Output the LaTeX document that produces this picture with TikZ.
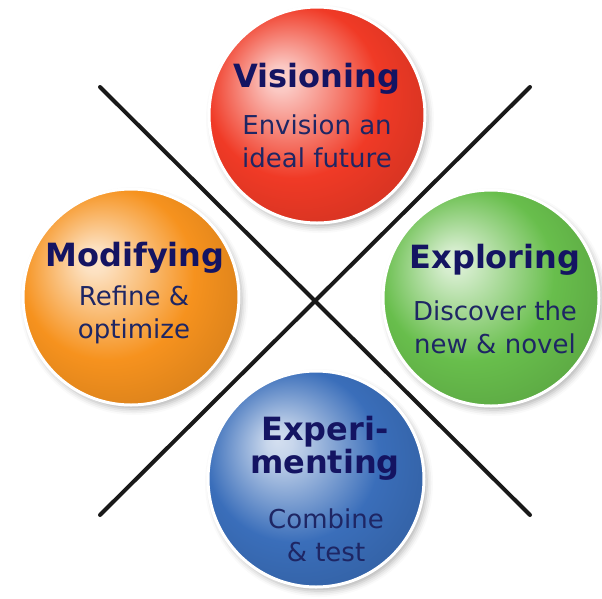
\documentclass[tikz,border=0pt]{standalone}
\usepackage{fontspec}
\setmainfont{DejaVu Sans}
\usetikzlibrary{shadows.blur}

\definecolor{headblue}{RGB}{20,20,98}
\definecolor{subblue}{RGB}{30,38,100}
\definecolor{visred}{RGB}{240,58,38}
\definecolor{modorange}{RGB}{246,146,30}
\definecolor{expgreen}{RGB}{104,190,76}
\definecolor{testblue}{RGB}{58,110,186}

% sphere shading: light spot up left, full colour, darker rim
\newcommand\declareball[2]{%
  \pgfdeclareradialshading{#1}{\pgfpoint{-9bp}{9bp}}{%
    color(0bp)=(#2!22!white); color(3bp)=(#2!28!white);
    color(20bp)=(#2); color(32bp)=(#2!88!black); color(50bp)=(#2!75!black)}}
\declareball{visball}{visred}
\declareball{modball}{modorange}
\declareball{expball}{expgreen}
\declareball{testball}{testblue}

\begin{document}
\begin{tikzpicture}[x=1pt,y=-1pt,
  ball/.style={circle, minimum size=216pt, inner sep=0pt, shade, shading=#1,
    draw=white, line width=3pt,
    blur shadow={shadow xshift=3pt, shadow yshift=-4pt, shadow blur radius=6pt, shadow opacity=30}},
  head/.style={anchor=base, align=center, text=headblue, font=\bfseries\fontsize{32}{33}\selectfont},
  sub/.style={anchor=base, align=center, text=subblue, font=\fontsize{26}{33}\selectfont}]
  \useasboundingbox (0,0) rectangle (602,598);

  % the cross
  \coordinate (nw) at (100,87);
  \coordinate (se) at (530,515);
  \coordinate (ne) at (530,87);
  \coordinate (sw) at (100,515);
  \draw[line width=4pt, line cap=round, black!90] (nw) -- (se) (ne) -- (sw);

  % the four spheres
  \node[ball=visball]  (vis)  at (317,115) {};
  \node[ball=modball]  (mod)  at (131,297) {};
  \node[ball=expball]  (expl) at (491,298) {};
  \node[ball=testball] (test) at (316,479) {};

  % titles and captions (base = last line)
  \node[head] (vis-h)  at (317,87)  {Visioning};
  \node[sub]  (vis-s)  at (317,167) {Envision an\\ideal future};
  \node[head] (mod-h)  at (135,266) {Modifying};
  \node[sub]  (mod-s)  at (134,338) {Refine \&\\optimize};
  \node[head] (expl-h) at (495,268) {Exploring};
  \node[sub]  (expl-s) at (495,353) {Discover the\\new \& novel};
  \node[head] (test-h) at (325,473) {Experi-\\menting};
  \node[sub]  (test-s) at (326,561) {Combine\\\& test};
\end{tikzpicture}
\end{document}
